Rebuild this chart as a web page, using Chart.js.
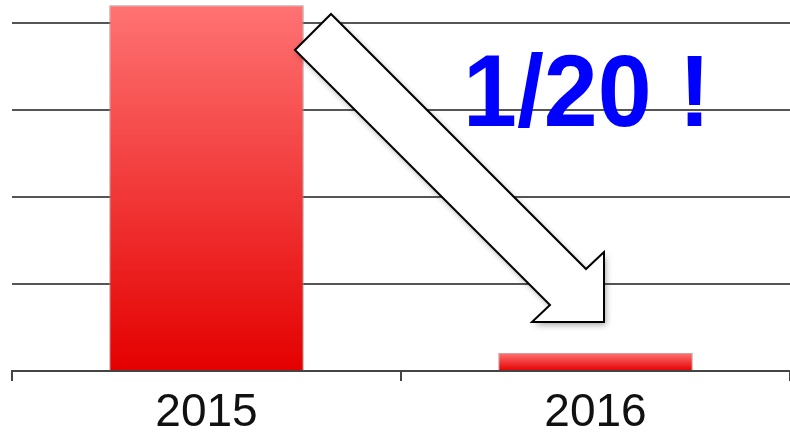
<!DOCTYPE html>
<html>
<head>
<meta charset="utf-8">
<script src="https://cdn.jsdelivr.net/npm/chart.js@4.4.1/dist/chart.umd.min.js"></script>
<style>
body{margin:0;background:#fff;overflow:hidden;}
#wrap{width:790px;height:445px;position:relative;}
</style>
</head>
<body>
<div id="wrap"><canvas id="yearchart"></canvas></div>
<script>
var years = ["2015", "2016"];
var amounts = [4.2, 0.21];
var gridsteps = [0, 1, 2, 3, 4];
var note = "1/20 !";

function bargradient(context){
    var chart = context.chart;
    if(!chart.chartArea || context.parsed == null){
        return "#ee2020";
    }
    var y = chart.scales.y;
    var top = y.getPixelForValue(context.parsed.y);
    var base = y.getPixelForValue(0);
    var g = chart.ctx.createLinearGradient(0, top, 0, base);
    g.addColorStop(0, "rgba(255, 115, 115, 1)");
    g.addColorStop(1, "rgba(228, 0, 0, 1)");
    return g;
}

// block arrow + the "1/20 !" text
var notePlugin = {
    id: "note",
    afterDraw: function(chart){
        var ctx = chart.ctx;
        var pts = [[295, 50], [331, 14], [586, 269], [604, 252], [604, 322], [532, 322], [550, 305]];
        ctx.save();
        ctx.beginPath();
        ctx.moveTo(pts[0][0], pts[0][1]);
        for(var i = 1; i < pts.length; i++){
            ctx.lineTo(pts[i][0], pts[i][1]);
        }
        ctx.closePath();
        ctx.shadowColor = "rgba(0, 0, 0, 0.35)";
        ctx.shadowBlur = 6;
        ctx.shadowOffsetX = 2;
        ctx.shadowOffsetY = 3;
        ctx.fillStyle = "#fff";
        ctx.fill();
        ctx.shadowColor = "transparent";
        ctx.lineWidth = 2;
        ctx.lineJoin = "miter";
        ctx.strokeStyle = "#000";
        ctx.stroke();

        // slightly condensed so it looks like the Helvetica of the original
        ctx.translate(463, 126);
        ctx.scale(0.95, 1);
        ctx.font = "bold 102px 'Liberation Sans', Arial, sans-serif";
        ctx.fillStyle = "#0000ff";
        ctx.textAlign = "left";
        ctx.textBaseline = "alphabetic";
        ctx.fillText(note, 0, 0);
        ctx.restore();
    }
};

var ctxB = document.getElementById("yearchart").getContext("2d");
var myBarChart = new Chart(ctxB, {
    type: "bar",
    data: {
        labels: years,
        datasets: [
            {
                label: "amount",
                data: amounts,
                backgroundColor: bargradient,
                borderColor: "rgba(150, 150, 150, 0.9)",
                borderWidth: 1,
                barPercentage: 0.5,
                categoryPercentage: 1
            }
        ]
    },
    options: {
        responsive: true,
        maintainAspectRatio: false,
        animation: false,
        layout: {
            padding: {left: 12, right: 0, top: 0, bottom: 0}
        },
        plugins: {
            legend: {display: false},
            tooltip: {enabled: false}
        },
        scales: {
            x: {
                grid: {
                    display: true,
                    drawOnChartArea: false,
                    drawTicks: true,
                    tickLength: 10,
                    color: "#444",
                    lineWidth: 2
                },
                border: {display: true, color: "#444", width: 2},
                ticks: {
                    color: "#111",
                    padding: 9,
                    font: {family: "'Liberation Sans', Arial, sans-serif", size: 46, lineHeight: 1}
                }
            },
            y: {
                min: 0,
                max: 4.26,
                afterBuildTicks: function(axis){
                    axis.ticks = gridsteps.map(function(v){ return {value: v}; });
                },
                grid: {
                    color: "#555",
                    lineWidth: 2,
                    drawTicks: false
                },
                border: {display: false},
                ticks: {display: false}
            }
        }
    },
    plugins: [notePlugin]
});
</script>
</body>
</html>
